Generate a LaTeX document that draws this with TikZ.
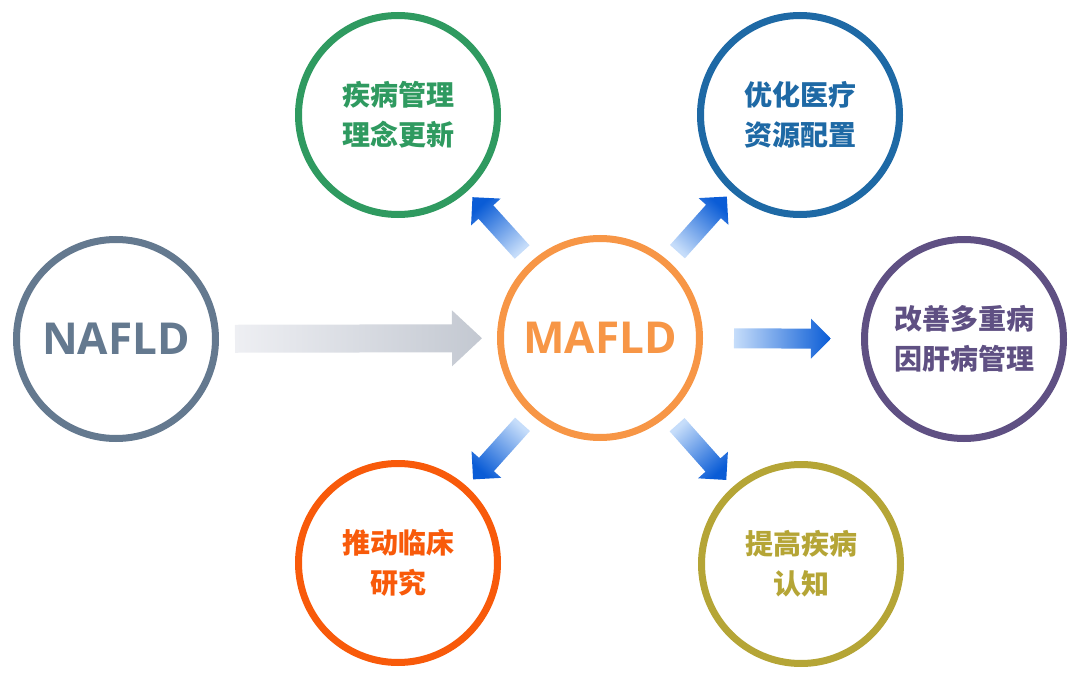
\documentclass[tikz,border=0pt]{standalone}
\usepackage{fontspec}
\setmainfont{Open Sans}
\newfontfamily\cjk{Noto Sans CJK SC}
\usetikzlibrary{calc,shadows}
\definecolor{cNA}{HTML}{64798F}
\definecolor{cMA}{HTML}{F79646}
\definecolor{cGR}{HTML}{2F9A60}
\definecolor{cBL}{HTML}{1E69A5}
\definecolor{cPU}{HTML}{5F5083}
\definecolor{cRD}{HTML}{F85A0A}
\definecolor{cOL}{HTML}{B5A536}
\definecolor{arLight}{HTML}{C6DDFA}
\definecolor{arDark}{HTML}{0A5CD6}
\definecolor{grLight}{HTML}{EEEFF3}
\definecolor{grDark}{HTML}{C3C8D1}
\newcommand\blockarr[7]{%
  \coordinate (hb) at ($(#2)!#5!(#1)$);
  \shade[#7, shading angle=#6]
    ($(#1)!#3!90:(#2)$) -- ($(hb)!#3!90:(#2)$) -- ($(hb)!#4!90:(#2)$) -- (#2)
    -- ($(hb)!#4!-90:(#2)$) -- ($(hb)!#3!-90:(#2)$) -- ($(#1)!#3!-90:(#2)$) -- cycle;
}
\begin{document}
\begin{tikzpicture}[x=1pt,y=-1pt,
  ring/.style={circle, draw=#1, line width=7pt, fill=white, minimum size=199pt,
    inner sep=0pt, text=#1,
    drop shadow={shadow xshift=2pt, shadow yshift=-2.5pt, opacity=0.22, fill=black!70}},
  big/.style={font=\bfseries\fontsize{44}{50}\selectfont},
  cn/.style={font=\cjk\bfseries\fontsize{28}{40}\selectfont, align=center},
  blue arrow/.style={bottom color=arLight, top color=arDark},
  gray arrow/.style={bottom color=grLight, top color=grDark}
]
\useasboundingbox (0,0) rectangle (1080,677);
\node[ring=cNA, big] (na) at (116,339) {NAFLD};
\node[ring=cMA, big] (ma) at (600,338) {MAFLD};
\node[ring=cGR, cn] (gr) at (398,115) {疾病管理\\理念更新};
\node[ring=cBL, cn] (bl) at (800,115) {优化医疗\\资源配置};
\node[ring=cPU, cn] (pu) at (964,339) {改善多重病\\因肝病管理};
\node[ring=cRD, cn] (rd) at (398,563) {推动临床\\研究};
\node[ring=cOL, cn] (ol) at (801,564) {提高疾病\\认知};

\coordinate (g0) at ($(na.center)!119pt!(ma.center)$);
\coordinate (g1) at ($(na.center)!366pt!(ma.center)$);
\blockarr{g0}{g1}{14pt}{28pt}{30pt}{-90}{gray arrow}

\coordinate (p0) at ($(ma.center)!134pt!(pu.center)$);
\coordinate (p1) at ($(ma.center)!231pt!(pu.center)$);
\blockarr{p0}{p1}{10pt}{20pt}{20pt}{-90}{blue arrow}

\coordinate (u0) at ($(ma.center)!116pt!(gr.center)$);
\coordinate (u1) at ($(ma.center)!190pt!(gr.center)$);
\blockarr{u0}{u1}{10pt}{20pt}{20pt}{42}{blue arrow}

\coordinate (v0) at ($(ma.center)!116pt!(bl.center)$);
\coordinate (v1) at ($(ma.center)!190pt!(bl.center)$);
\blockarr{v0}{v1}{10pt}{20pt}{20pt}{-42}{blue arrow}

\coordinate (w0) at ($(ma.center)!116pt!(rd.center)$);
\coordinate (w1) at ($(ma.center)!190pt!(rd.center)$);
\blockarr{w0}{w1}{10pt}{20pt}{20pt}{138}{blue arrow}

\coordinate (z0) at ($(ma.center)!116pt!(ol.center)$);
\coordinate (z1) at ($(ma.center)!190pt!(ol.center)$);
\blockarr{z0}{z1}{10pt}{20pt}{20pt}{-138}{blue arrow}
\end{tikzpicture}
\end{document}
